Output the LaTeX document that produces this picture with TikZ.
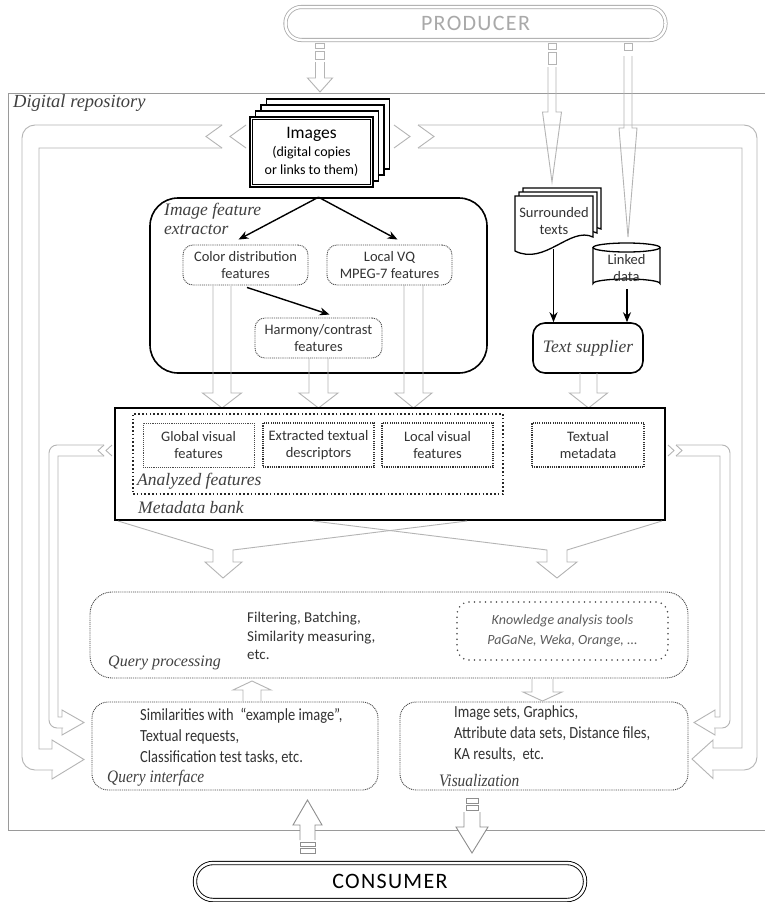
\documentclass[tikz,border=0pt]{standalone}
\usepackage{fontspec}
\setmainfont{Carlito}
\newfontfamily\serifit{Liberation Serif}
\newfontfamily\narrowsans[FakeStretch=0.85]{Carlito}
\newfontfamily\narrowserif[FakeStretch=0.88]{Liberation Serif}
\usetikzlibrary{arrows.meta,calc}

\definecolor{pipegray}{HTML}{B4B4B4}
\definecolor{darkpipe}{HTML}{8E8E8E}
\definecolor{repogray}{HTML}{9A9A9A}
\definecolor{txt}{HTML}{333333}
\definecolor{lbl}{HTML}{404040}
\definecolor{dotc}{HTML}{4A4A4A}
\definecolor{prodgray}{HTML}{A9A9A9}

% hollow arrow: [opts]{x}{y stem start}{y head base}{y tip}{stem half width}{head half width}
\newcommand{\hdarrow}[7][]{\draw[hollow,#1] (#2-#6,#3) -- (#2-#6,#4) -- (#2-#7,#4) -- (#2,#5) -- (#2+#7,#4) -- (#2+#6,#4) -- (#2+#6,#3);}
\newcommand{\docshape}[2]{\draw[line width=1.3pt, fill=white] (515+#1,196+#2) -- (593+#1,196+#2) -- (593+#1,237+#2) .. controls (570+#1,226+#2) and (545+#1,266+#2) .. (515+#1,251+#2) -- cycle;}

\tikzset{
  pipe/.style={draw=pipegray, line width=0.9pt},
  hollow/.style={draw=pipegray, line width=0.9pt, line join=miter},
  blk/.style={draw=black, line width=1.4pt, -{Stealth[length=10pt,width=8pt]}},
  fdot/.style={draw=dotc, line width=0.9pt, dash pattern=on 1pt off 0.9pt},
  mdot/.style={draw=black!80, line width=1.5pt, dash pattern=on 1.1pt off 1.1pt},
  bdot/.style={draw=black!85, line width=2pt, dash pattern=on 1.6pt off 2.2pt},
  sdot/.style={draw=dotc, line width=1.7pt, line cap=round, dash pattern=on 0pt off 5.5pt},
  body/.style={font=\fontsize{14.5}{17.5}\selectfont, text=txt, align=center, inner sep=0pt},
  lab/.style={font=\fontsize{17.5}{19}\selectfont\serifit\itshape, text=lbl, inner sep=0pt},
  sized/.style n args={2}{minimum width=#1, minimum height=#2, inner sep=0pt},
}

\begin{document}
\begin{tikzpicture}[x=1pt,y=-1pt]
\useasboundingbox (0,0) rectangle (765,902);
\fill[white] (0,0) rectangle (765,902);

% ---------- producer ----------
\node[draw=prodgray, line width=0.8pt, double=white, double distance=2.5pt, rounded corners=16pt,
      sized={380pt}{33pt}, text=prodgray, font=\fontsize{22}{24}\selectfont\addfontfeature{LetterSpace=6}]
      (producer) at (475.5,23.5) {PRODUCER};

% ---------- digital repository ----------
\draw[draw=repogray, line width=0.9pt] (768,93) -- (8,93) -- (8,830) -- (768,830);
\node[lab, anchor=west, font=\fontsize{18.5}{20}\selectfont\serifit\itshape] (repolabel) at (13,103) {Digital repository};

% ---------- producer arrows ----------
\draw[pipe] (315.5,43) rectangle (324.5,48);
\draw[pipe] (315.5,51) rectangle (324.5,59);
\hdarrow{320}{62}{78}{92}{4.5}{12.5}
\draw[pipe] (548,43) rectangle (556,49);
\draw[pipe] (548,52) rectangle (556,64);
\hdarrow{552}{67}{112}{182}{4}{9.5}
\draw[pipe] (624,43) rectangle (632,50);
\hdarrow{628}{56}{128}{237}{4}{9}

% ---------- big loops (pipes) ----------
% outer left
\draw[pipe, rounded corners=13pt] (222,125) -- (22,125) -- (22,770) -- (53,770);
\draw[pipe] (52,770) -- (52,779) -- (84,759.5) -- (52,740) -- (52,749) -- (39,749) -- (39,148) -- (222,148);
\draw[pipe] (222,125) -- (206,136.5) -- (222,148);
\draw[pipe] (246,125) -- (230,136.5) -- (246,148);
% outer right
\draw[pipe, rounded corners=13pt] (418,125) -- (757,125) -- (757,770) -- (712,770);
\draw[pipe] (713,770) -- (713,778.5) -- (692,759) -- (713,740) -- (713,748) -- (742,748) -- (742,148) -- (418,148);
\draw[pipe] (418,125) -- (434,136.5) -- (418,148);
\draw[pipe] (394,125) -- (410,136.5) -- (394,148);
% inner left
\draw[pipe, rounded corners=8pt] (104,445) -- (49,445) -- (49,728) -- (63,728);
\draw[pipe] (62,728) -- (62,735) -- (84,722.5) -- (62,710) -- (62,717) -- (58,717) -- (58,456) -- (104,456);
\draw[pipe] (104,445) -- (98,450.5) -- (104,456);
\draw[pipe] (112,445) -- (106,450.5) -- (112,456);
% inner right
\draw[pipe, rounded corners=8pt] (676,445) -- (730,445) -- (730,728) -- (714,728);
\draw[pipe] (715,728) -- (715,735) -- (694,722.5) -- (715,710) -- (715,717) -- (720,717) -- (720,456) -- (676,456);
\draw[pipe] (676,445) -- (682,450.5) -- (676,456);
\draw[pipe] (668,445) -- (674,450.5) -- (668,456);

% ---------- images stack ----------
\foreach \k in {3,2,1}
  \node[draw, line width=1.8pt, fill=white, sized={123pt}{70pt}] (imgb\k) at (311.5+5.5*\k,152-6*\k) {};
\node[draw, line width=2.2pt, fill=white, sized={123pt}{70pt}, align=center, text=black,
      font=\fontsize{14}{18}\selectfont] (images) at (311.5,152)
      {{\fontsize{17.5}{20}\selectfont Images}\\(digital copies\\or links to them)};
\draw[line width=0.7pt] ($(images.south west)+(3.5,-3.5)$) rectangle ($(images.north east)+(-3.5,3.5)$);

% ---------- image feature extractor ----------
\node[draw, line width=1.6pt, rounded corners=28pt, sized={337pt}{175pt}] (extractor) at (318.5,285.5) {};
\node[lab, anchor=north west, align=left] (extlabel) at (164,203) {Image feature\\extractor};
\node[fdot, rounded corners=10pt, sized={125pt}{40pt}, body] (color) at (245.5,265) {Color distribution\\features};
\node[fdot, rounded corners=10pt, sized={125pt}{40pt}, body] (localvq) at (389.5,265) {Local VQ\\MPEG-7 features};
\node[fdot, rounded corners=10pt, sized={127pt}{40pt}, body] (harmony) at (318.5,338) {Harmony/contrast\\features};
\draw[blk] (extractor.north) -- ($(color.north)+(-7,-5)$);
\draw[blk] (extractor.north) -- ($(localvq.north)+(8,-5)$);
\draw[blk] ($(color.south)+(1.5,2)$) -- ($(harmony.north)+(11,-3)$);

% ---------- surrounded texts / linked data / text supplier ----------
\docshape{8}{-8}
\docshape{4}{-4}
\docshape{0}{0}
\node[body] (surr) at (554,221) {Surrounded\\texts};
\draw[line width=1.3pt, fill=white] (593,247.5) -- (593,283.5) arc[start angle=180, end angle=360, x radius=33.5, y radius=4.5] -- (660,247.5);
\draw[line width=1.3pt] (626.5,247.5) ellipse [x radius=33.5, y radius=4.5];
\node[body] (linked) at (626.5,268) {Linked\\data};
\node[draw, line width=1.6pt, rounded corners=12pt, sized={110pt}{50pt}, lab] (textsup) at (588,348) {Text supplier};
\coordinate (surrbot) at (553.5,249);
\coordinate (ldbot) at (627,289);
\draw[blk] (surrbot) -- (surrbot |- textsup.north);
\draw[blk] (ldbot) -- (ldbot |- textsup.north);

% ---------- hollow arrows into metadata bank ----------
\hdarrow{222}{286}{393}{408}{9}{19.5}
\hdarrow{318.5}{358}{393}{408}{9.5}{19.5}
\hdarrow{413.5}{285}{393}{408}{9.5}{18.5}
\hdarrow{588.5}{373}{393}{408}{8.5}{19}

% ---------- metadata bank ----------
\node[draw, line width=1.9pt, sized={550pt}{112pt}] (meta) at (390,464) {};
\node[bdot, sized={370pt}{80pt}] (anal) at (318,454) {};
\node[fdot, sized={111pt}{44pt}, body] (global) at (198.5,445) {Global visual\\features};
\node[mdot, sized={111pt}{44pt}, body] (extracted) at (318.5,445) {Extracted textual\\descriptors};
\node[mdot, sized={111pt}{44pt}, body] (localvis) at (437.5,445) {Local visual\\features};
\node[mdot, sized={112pt}{44pt}, body] (textmeta) at (588,445) {Textual\\metadata};
\node[lab, anchor=west] (anallabel) at (137,481) {Analyzed features};
\node[lab, anchor=west] (metalabel) at (138,508) {Metadata bank};

% ---------- crossing arrows ----------
\draw[hollow] (118,521) -- (213,550) -- (213,562) -- (205,562) -- (223,578) -- (242,562) -- (233,562) -- (233,550) -- (467,521);
\draw[hollow] (313,521) -- (547,550) -- (547,562) -- (537,562) -- (557,578) -- (577,562) -- (567,562) -- (567,550) -- (662,521);

% ---------- query processing ----------
\node[fdot, rounded corners=22pt, sized={598pt}{86pt}] (qproc) at (389,635) {};
\node[body, align=left, anchor=west, font=\fontsize{15}{18.5}\selectfont] (qtext) at (247,636) {Filtering, Batching,\\Similarity measuring,\\etc.};
\node[lab, anchor=west, font=\fontsize{16}{18}\selectfont\serifit\itshape] (qlabel) at (108,663) {Query processing};
\node[sdot, rounded corners=12pt, sized={211pt}{58pt}, align=center, text=txt!80,
      font=\fontsize{14}{19.5}\selectfont\itshape] (katool) at (562.5,631) {Knowledge analysis tools\\PaGaNe, Weka, Orange, ...};

% ---------- query interface / visualization ----------
\node[fdot, rounded corners=16pt, sized={286pt}{88pt}] (qint) at (235,746) {};
\node[fdot, rounded corners=16pt, sized={288pt}{88pt}] (vis) at (544,746) {};
\node[inner sep=0pt, anchor=west, align=left, text=txt, font=\fontsize{17}{21}\selectfont\narrowsans] (qinttext) at (140,736)
  {Similarities with\ \ “example image”,\\Textual requests,\\Classification test tasks, etc.};
\node[inner sep=0pt, anchor=west, align=left, text=txt, font=\fontsize{17}{21}\selectfont\narrowsans] (vistext) at (454,734)
  {Image sets, Graphics,\\Attribute data sets, Distance files,\\KA results,\ \ etc.};
\node[lab, anchor=west, font=\fontsize{17.5}{19}\selectfont\narrowserif\itshape] (qintlabel) at (107,778) {Query interface};
\node[lab, anchor=west, font=\fontsize{17.5}{19}\selectfont\narrowserif\itshape] (vislabel) at (439,781) {Visualization};

% small arrows between query boxes
\hdarrow{252}{701}{690}{681}{9}{19}
\hdarrow{542.5}{679}{692}{701}{10.5}{19.5}

% ---------- consumer ----------
\node[draw=black, line width=0.9pt, double=white, double distance=2.5pt, rounded corners=18pt,
      sized={390pt}{37pt}, font=\fontsize{22}{24}\selectfont\addfontfeature{LetterSpace=6}]
      (consumer) at (390,881.5) {CONSUMER};
\hdarrow[draw=darkpipe, fill=white]{307.5}{840}{825}{800}{7.5}{14.5}
\draw[draw=darkpipe, line width=0.9pt] (300,842) rectangle (315,846.5);
\draw[draw=darkpipe, line width=0.9pt] (300,848.5) rectangle (315,853);
\draw[draw=darkpipe, line width=0.9pt] (466,798) rectangle (478,803);
\draw[draw=darkpipe, line width=0.9pt] (466,805) rectangle (478,810);
\hdarrow[draw=darkpipe, fill=white]{472}{812}{827}{853}{8}{16}
\end{tikzpicture}
\end{document}
